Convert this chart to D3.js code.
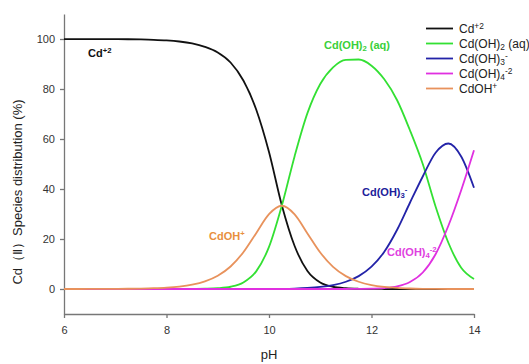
<!DOCTYPE html>
<html>
<head>
<meta charset="utf-8">
<script src="https://cdn.jsdelivr.net/npm/d3@7"></script>
<style>
  body { margin: 0; background: #fff; }
  svg { font-family: "Liberation Sans", Arial, sans-serif; }
  .axis path, .axis line { stroke: #777; stroke-width: 1.3; }
  .axis text { fill: #333; font-size: 11px; }
</style>
</head>
<body>
<div id="chart"></div>
<script>
// pH grid, every 0.25
const pH = [6, 6.25, 6.5, 6.75, 7, 7.25, 7.5, 7.75, 8, 8.25, 8.5, 8.75, 9, 9.25, 9.5, 9.75,
  10, 10.25, 10.5, 10.75, 11, 11.25, 11.5, 11.75, 12, 12.25, 12.5, 12.75, 13, 13.25, 13.5, 13.75, 14];

const cd2 = [99.99, 99.99, 99.98, 99.97, 99.94, 99.9, 99.82, 99.68, 99.44, 99.0, 98.22, 96.84, 94.6, 90.6, 83.4, 71.8,
  54.8, 33.5, 17.2, 7.2, 2.6, 0.9, 0.3, 0.09, 0.03, 0.01, 0, 0, 0, 0, 0, 0, 0];
const cdoh2 = [0, 0, 0, 0, 0, 0, 0, 0, 0, 0.01, 0.03, 0.1, 0.3, 0.9, 2.61, 7.06,
  16.83, 33.31, 53.14, 70.33, 82.0, 88.67, 91.66, 91.8, 89.33, 83.87, 75.5, 63.5, 50.0, 33.0, 18.5, 8.5, 4.0];
const cdoh3 = [0, 0, 0, 0, 0, 0, 0, 0, 0, 0, 0, 0, 0, 0, 0, 0,
  0.02, 0.06, 0.17, 0.4, 0.82, 1.58, 2.9, 5.16, 8.93, 14.91, 23.7, 34.5, 45.0, 54.5, 58.2, 53.0, 40.5];
const cdoh4 = [0, 0, 0, 0, 0, 0, 0, 0, 0, 0, 0, 0, 0, 0, 0, 0,
  0, 0, 0, 0, 0, 0, 0.01, 0.04, 0.13, 0.38, 1.06, 2.8, 6.6, 13.9, 25.3, 39.5, 55.5];
const cdoh = [0.01, 0.01, 0.02, 0.03, 0.06, 0.1, 0.18, 0.32, 0.56, 0.99, 1.75, 3.06, 5.31, 9.01, 14.7, 22.33,
  29.93, 33.31, 29.88, 22.24, 14.58, 8.87, 5.15, 2.9, 1.59, 0.84, 0.42, 0.2, 0.08, 0.03, 0.01, 0, 0];

const xTicks = [6, 8, 10, 12, 14];
const yTicks = [0, 20, 40, 60, 80, 100];

const series = [
  { key: 'cd2', values: cd2, color: '#111111' },
  { key: 'cdoh2', values: cdoh2, color: '#33e033' },
  { key: 'cdoh3', values: cdoh3, color: '#2323a8' },
  { key: 'cdoh4', values: cdoh4, color: '#e030e0' },
  { key: 'cdoh', values: cdoh, color: '#e8925c' }
];

const width = 529, height = 364;
const margin = { top: 14, right: 55, bottom: 50, left: 64 };
const w = width - margin.left - margin.right;
const h = height - margin.top - margin.bottom;

const svg = d3.select('#chart').append('svg')
  .attr('width', width)
  .attr('height', height);

const g = svg.append('g')
  .attr('transform', `translate(${margin.left},${margin.top})`);

const x = d3.scaleLinear().domain([6, 14]).range([0, w]);
const y = d3.scaleLinear().domain([-10, 110]).range([h, 0]);

// axes
g.append('g')
  .attr('class', 'axis')
  .attr('transform', `translate(0,${h})`)
  .call(d3.axisBottom(x).tickValues(xTicks).tickSize(4).tickSizeOuter(0).tickPadding(8));

g.append('g')
  .attr('class', 'axis')
  .call(d3.axisLeft(y).tickValues(yTicks).tickSize(4).tickSizeOuter(0).tickPadding(5));

// lines
const line = d3.line()
  .curve(d3.curveMonotoneX)
  .x((d, i) => x(pH[i]))
  .y(d => y(d));

series.forEach(s => {
  g.append('path')
    .datum(s.values)
    .attr('fill', 'none')
    .attr('stroke', s.color)
    .attr('stroke-width', 1.8)
    .attr('d', line);
});

// chemical labels: parts = [[text, 'n'|'sub'|'sup']]
function chem(sel, parts, size) {
  parts.forEach(p => {
    const t = sel.append('tspan').text(p[0]);
    if (p[1] === 'sub') t.attr('font-size', size * 0.7).attr('baseline-shift', '-25%');
    if (p[1] === 'sup') t.attr('font-size', size * 0.7).attr('baseline-shift', '45%');
  });
}

const labelParts = {
  cd2: [['Cd', 'n'], ['+2', 'sup']],
  cdoh2: [['Cd(OH)', 'n'], ['2', 'sub'], [' (aq)', 'n']],
  cdoh3: [['Cd(OH)', 'n'], ['3', 'sub'], ['-', 'sup']],
  cdoh4: [['Cd(OH)', 'n'], ['4', 'sub'], ['-2', 'sup']],
  cdoh: [['CdOH', 'n'], ['+', 'sup']]
};

// in-plot labels (pixel positions in svg space)
const inPlot = [
  { key: 'cd2', px: 88, py: 57, color: '#111111' },
  { key: 'cdoh2', px: 324, py: 49, color: '#3ad03a' },
  { key: 'cdoh3', px: 362, py: 196, color: '#20209a' },
  { key: 'cdoh', px: 209, py: 240, color: '#e8903e' },
  { key: 'cdoh4', px: 387, py: 256, color: '#e040e0' }
];

inPlot.forEach(l => {
  const t = svg.append('text')
    .attr('x', l.px)
    .attr('y', l.py)
    .attr('fill', l.color)
    .attr('font-size', 11)
    .attr('font-weight', 'bold');
  chem(t, labelParts[l.key], 11);
});

// legend
const legend = svg.append('g').attr('transform', 'translate(426,28.5)');
series.forEach((s, i) => {
  const row = legend.append('g').attr('transform', `translate(0,${i * 15})`);
  row.append('line')
    .attr('x1', 0).attr('x2', 27)
    .attr('stroke', s.color)
    .attr('stroke-width', 1.8);
  const t = row.append('text')
    .attr('x', 33)
    .attr('y', 4.5)
    .attr('fill', '#222')
    .attr('font-size', 12);
  chem(t, labelParts[s.key], 12);
});

// axis titles
svg.append('text')
  .attr('x', margin.left + x(10))
  .attr('y', 359)
  .attr('text-anchor', 'middle')
  .attr('fill', '#222')
  .attr('font-size', 13)
  .text('pH');

svg.append('text')
  .attr('transform', 'translate(22,192) rotate(-90)')
  .attr('text-anchor', 'middle')
  .attr('fill', '#222')
  .attr('font-size', 13)
  .text('Cd（Ⅱ）Species distribution (%)');
</script>
</body>
</html>
